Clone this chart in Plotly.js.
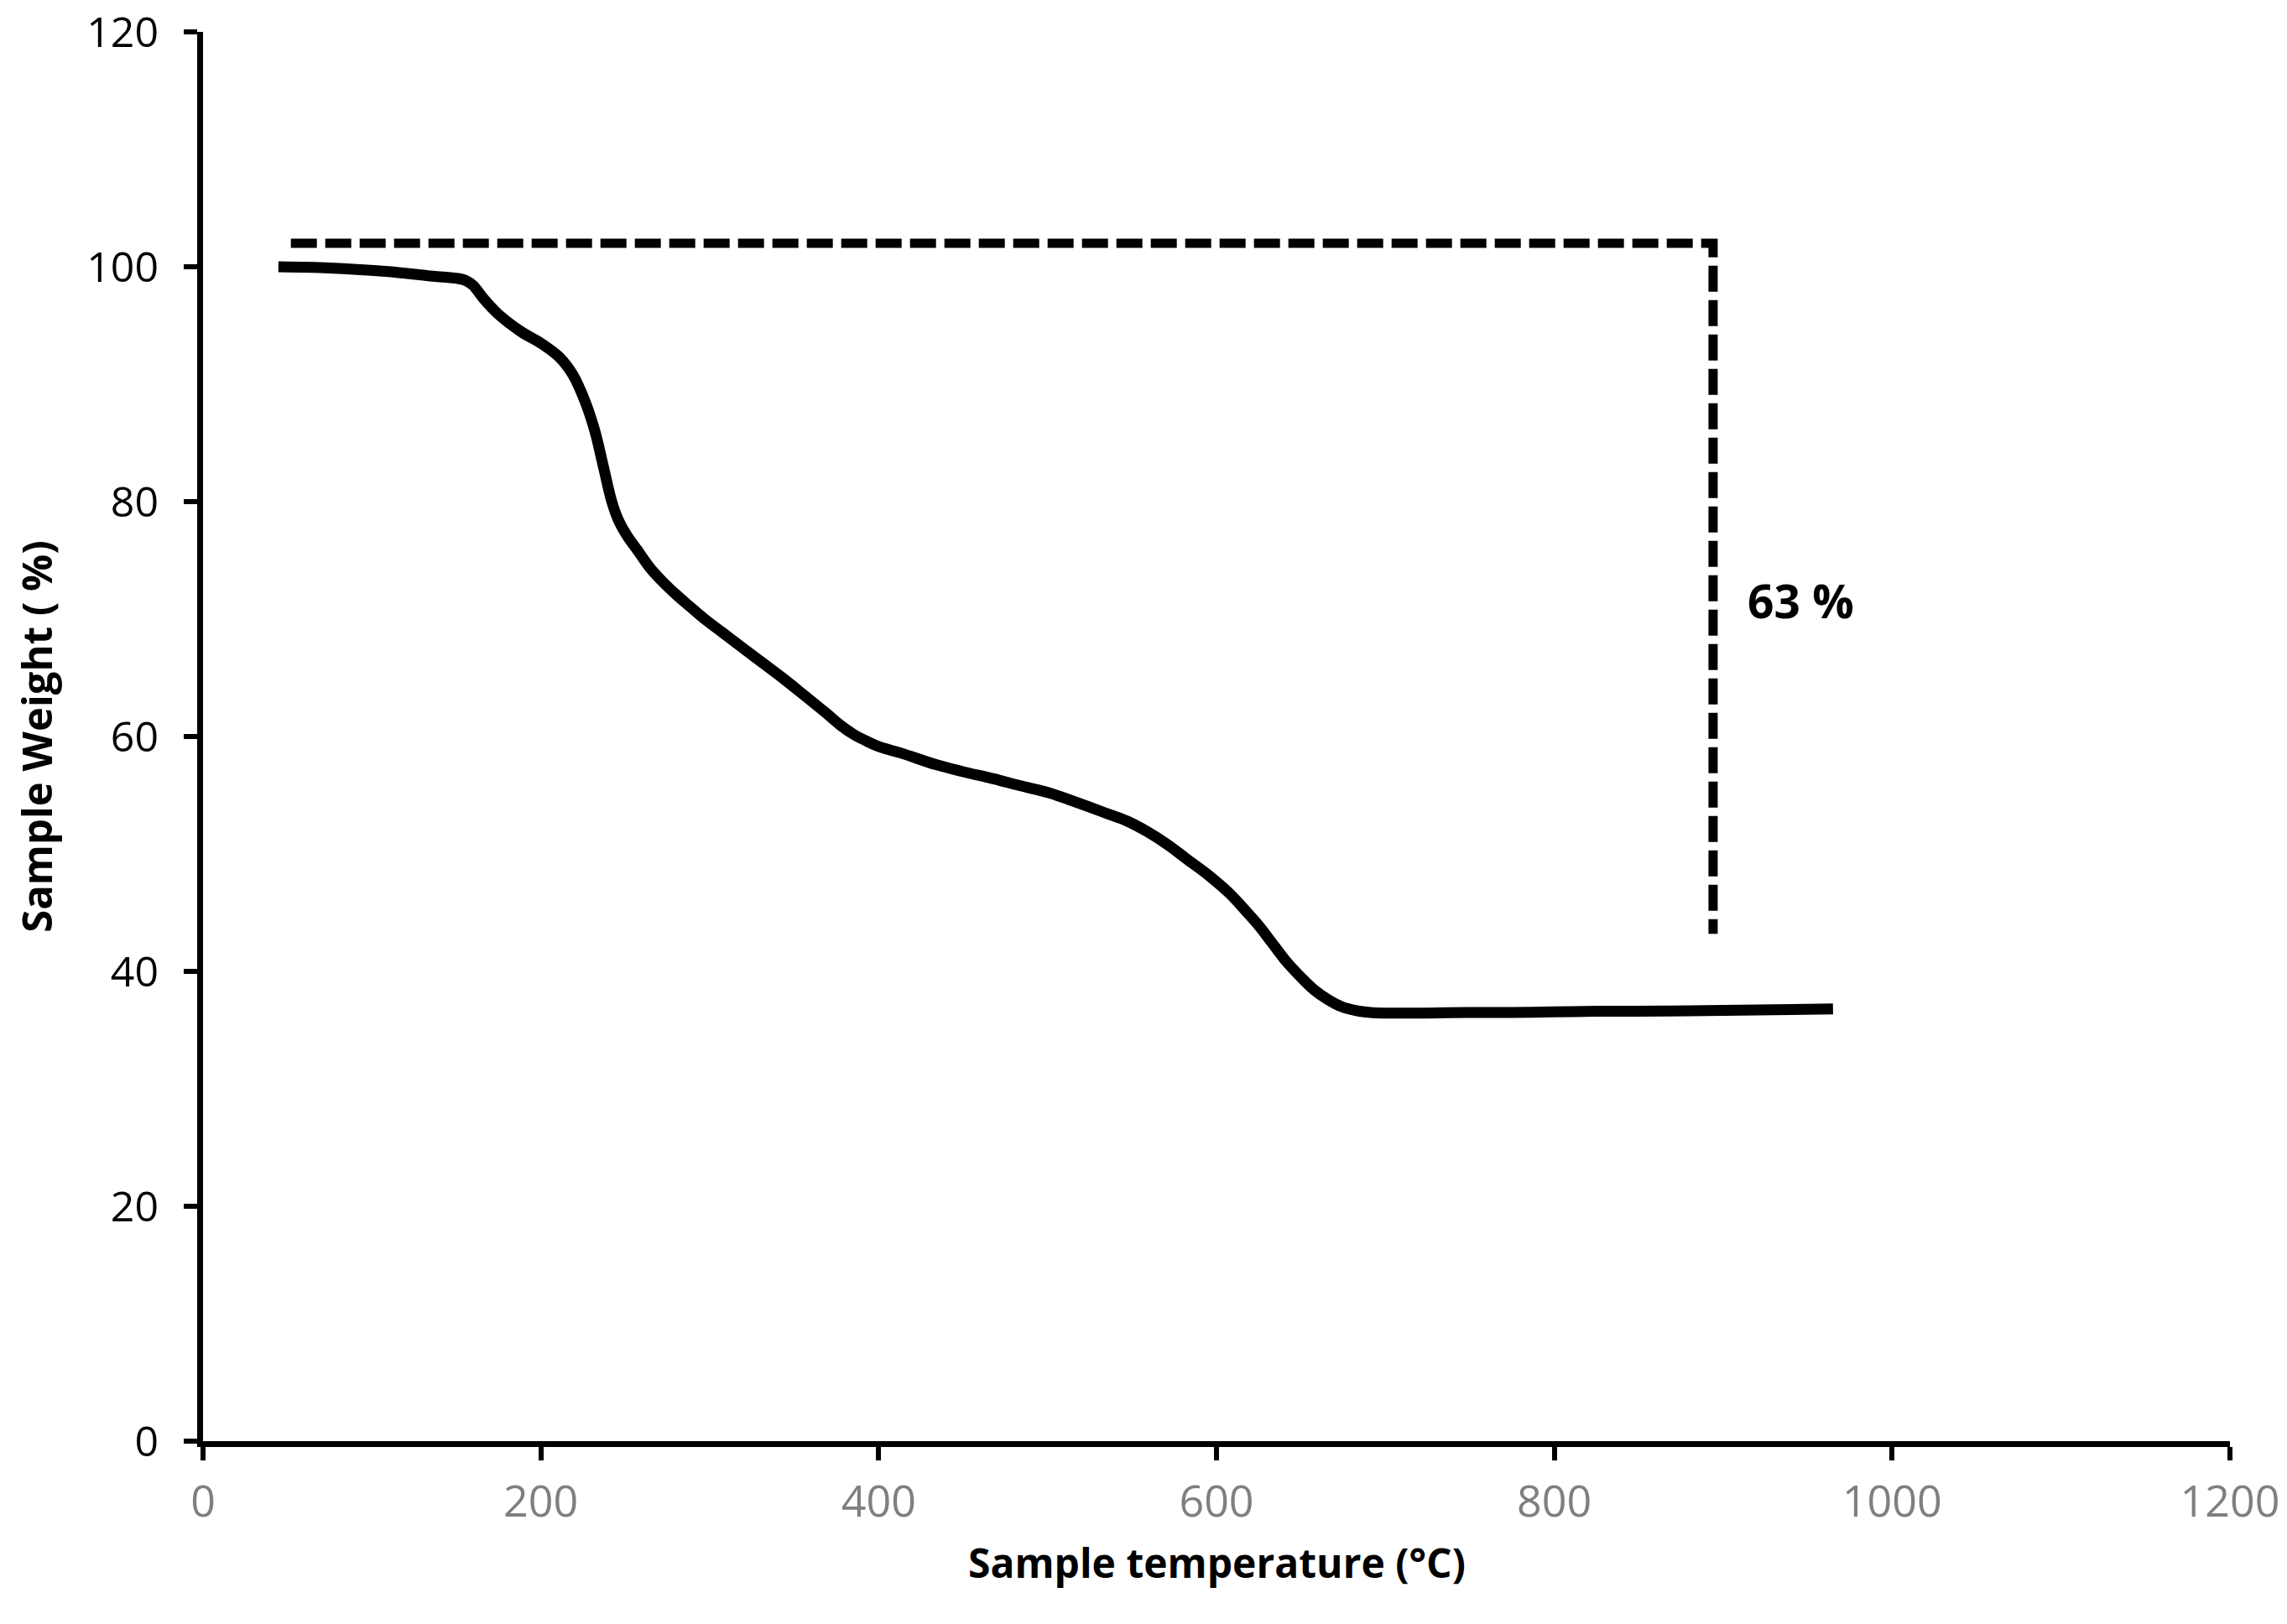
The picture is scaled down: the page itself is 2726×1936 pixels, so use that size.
<!DOCTYPE html>
<html>
<head>
<meta charset="utf-8">
<script src="https://cdn.plot.ly/plotly-3.0.1.min.js"></script>
<style>html,body{margin:0;padding:0;background:#fff;}#chart{width:2726px;height:1936px;}</style>
</head>
<body>
<div id="chart"></div>
<script>
// Sample temperature (°C)
const temperature = [44.6, 75, 108, 136, 151, 156, 160, 166, 174.5, 188, 201, 211, 219, 226, 232, 237, 242, 246, 251, 257, 265, 272, 280, 288, 297, 308, 319, 331, 343, 356, 368, 377, 385, 393, 401, 413, 434, 450, 468, 484, 501, 517, 534, 547, 559, 571, 583, 596, 608, 617, 625, 633, 641, 650, 658, 666, 674, 683, 691, 699, 725, 749, 775, 799, 825, 848, 880, 910, 940, 965];
// Sample weight (%)
const weight = [100.0, 99.9, 99.6, 99.2, 99.0, 98.8, 98.4, 97.3, 96.0, 94.5, 93.4, 92.3, 90.8, 88.6, 86.0, 83.0, 80.0, 78.4, 77.1, 75.9, 74.3, 73.2, 72.1, 71.1, 70.0, 68.8, 67.6, 66.3, 65.0, 63.5, 62.1, 61.0, 60.2, 59.6, 59.1, 58.6, 57.6, 57.0, 56.4, 55.8, 55.2, 54.4, 53.5, 52.8, 51.9, 50.8, 49.5, 48.1, 46.6, 45.2, 43.9, 42.4, 40.9, 39.5, 38.4, 37.6, 37.0, 36.65, 36.5, 36.45, 36.45, 36.5, 36.5, 36.55, 36.6, 36.6, 36.65, 36.7, 36.75, 36.8];
// Weight-loss marker (dashed bracket)
const lossX = [52, 894, 894];
const lossY = [102, 102, 43.2];
const lossLabel = "63 %";
const lossLabelX = 946;
const lossLabelY = 71.6;

const xTicks = [0, 200, 400, 600, 800, 1000, 1200];
const yTicks = [0, 20, 40, 60, 80, 100, 120];
const xTitle = 'Sample temperature (°C)';
const yTitle = 'Sample Weight ( %)';

const font = "'Open Sans', 'Noto Sans', sans-serif";

const traces = [
  {
    x: temperature, y: weight, type: 'scatter', mode: 'lines',
    line: {color: '#000', width: 13, shape: 'spline', smoothing: 1},
    hoverinfo: 'skip', showlegend: false
  },
  {
    x: lossX, y: lossY, type: 'scatter', mode: 'lines',
    line: {color: '#000', width: 11, dash: '31px,10px'},
    hoverinfo: 'skip', showlegend: false
  }
];

const layout = {
  width: 2726, height: 1936,
  margin: {l: 242, r: 68, t: 38, b: 218, pad: 0},
  paper_bgcolor: '#fff', plot_bgcolor: '#fff',
  showlegend: false,
  font: {family: font, color: '#000'},
  xaxis: {
    range: [0, 1200], tickvals: xTicks, ticktext: xTicks.map(String),
    showgrid: false, zeroline: false,
    showline: true, linecolor: '#000', linewidth: 7,
    ticks: 'outside', ticklen: 16, tickwidth: 6, tickcolor: '#000',
    ticklabelstandoff: 5, ticklabeloverflow: 'allow',
    tickfont: {family: font, size: 52, color: '#7f7f7f'},
    fixedrange: true
  },
  yaxis: {
    range: [0, 120], tickvals: yTicks, ticktext: yTicks.map(String),
    showgrid: false, zeroline: false,
    showline: true, linecolor: '#000', linewidth: 7,
    ticks: 'outside', ticklen: 16, tickwidth: 6, tickcolor: '#000',
    ticklabelstandoff: 20, ticklabeloverflow: 'allow',
    tickfont: {family: font, size: 50, color: '#000'},
    title: {text: yTitle, font: {family: font, size: 49, color: '#000', weight: 'bold'}, standoff: 28},
    fixedrange: true
  },
  annotations: [
    {
      x: 0.5, y: -0.086, xref: 'paper', yref: 'paper',
      text: '<b>' + xTitle + '</b>', showarrow: false,
      font: {family: font, size: 48, color: '#000'},
      xanchor: 'center', yanchor: 'middle'
    },
    {
      x: lossLabelX, y: lossLabelY, xref: 'x', yref: 'y',
      text: '<b>' + lossLabel + '</b>', showarrow: false,
      font: {family: font, size: 55, color: '#000'},
      xanchor: 'center', yanchor: 'middle'
    }
  ]
};

Plotly.newPlot('chart', traces, layout, {staticPlot: true, displayModeBar: false});
</script>
</body>
</html>
